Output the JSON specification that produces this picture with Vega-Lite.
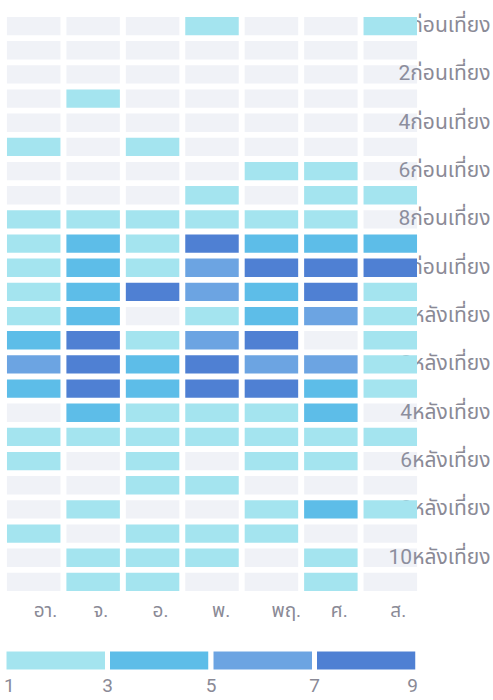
{
  "$schema": "https://vega.github.io/schema/vega-lite/v6.json",
  "width": 416,
  "height": 580,
  "padding": {"left": 4, "top": 14, "right": 3, "bottom": 0},
  "background": "white",
  "config": {"view": {"stroke": null}, "font": "Roboto, Noto Sans Thai, sans-serif"},
  "data": {"values": [
    {"hour":0,"day":"อา.","count":0},{"hour":0,"day":"จ.","count":0},{"hour":0,"day":"อ.","count":0},{"hour":0,"day":"พ.","count":1},{"hour":0,"day":"พฤ.","count":0},{"hour":0,"day":"ศ.","count":0},{"hour":0,"day":"ส.","count":1},
    {"hour":1,"day":"อา.","count":0},{"hour":1,"day":"จ.","count":0},{"hour":1,"day":"อ.","count":0},{"hour":1,"day":"พ.","count":0},{"hour":1,"day":"พฤ.","count":0},{"hour":1,"day":"ศ.","count":0},{"hour":1,"day":"ส.","count":0},
    {"hour":2,"day":"อา.","count":0},{"hour":2,"day":"จ.","count":0},{"hour":2,"day":"อ.","count":0},{"hour":2,"day":"พ.","count":0},{"hour":2,"day":"พฤ.","count":0},{"hour":2,"day":"ศ.","count":0},{"hour":2,"day":"ส.","count":0},
    {"hour":3,"day":"อา.","count":0},{"hour":3,"day":"จ.","count":1},{"hour":3,"day":"อ.","count":0},{"hour":3,"day":"พ.","count":0},{"hour":3,"day":"พฤ.","count":0},{"hour":3,"day":"ศ.","count":0},{"hour":3,"day":"ส.","count":0},
    {"hour":4,"day":"อา.","count":0},{"hour":4,"day":"จ.","count":0},{"hour":4,"day":"อ.","count":0},{"hour":4,"day":"พ.","count":0},{"hour":4,"day":"พฤ.","count":0},{"hour":4,"day":"ศ.","count":0},{"hour":4,"day":"ส.","count":0},
    {"hour":5,"day":"อา.","count":1},{"hour":5,"day":"จ.","count":0},{"hour":5,"day":"อ.","count":1},{"hour":5,"day":"พ.","count":0},{"hour":5,"day":"พฤ.","count":0},{"hour":5,"day":"ศ.","count":0},{"hour":5,"day":"ส.","count":0},
    {"hour":6,"day":"อา.","count":0},{"hour":6,"day":"จ.","count":0},{"hour":6,"day":"อ.","count":0},{"hour":6,"day":"พ.","count":0},{"hour":6,"day":"พฤ.","count":1},{"hour":6,"day":"ศ.","count":1},{"hour":6,"day":"ส.","count":0},
    {"hour":7,"day":"อา.","count":0},{"hour":7,"day":"จ.","count":0},{"hour":7,"day":"อ.","count":0},{"hour":7,"day":"พ.","count":1},{"hour":7,"day":"พฤ.","count":0},{"hour":7,"day":"ศ.","count":1},{"hour":7,"day":"ส.","count":1},
    {"hour":8,"day":"อา.","count":2},{"hour":8,"day":"จ.","count":2},{"hour":8,"day":"อ.","count":2},{"hour":8,"day":"พ.","count":1},{"hour":8,"day":"พฤ.","count":2},{"hour":8,"day":"ศ.","count":1},{"hour":8,"day":"ส.","count":0},
    {"hour":9,"day":"อา.","count":2},{"hour":9,"day":"จ.","count":4},{"hour":9,"day":"อ.","count":2},{"hour":9,"day":"พ.","count":8},{"hour":9,"day":"พฤ.","count":4},{"hour":9,"day":"ศ.","count":4},{"hour":9,"day":"ส.","count":4},
    {"hour":10,"day":"อา.","count":2},{"hour":10,"day":"จ.","count":4},{"hour":10,"day":"อ.","count":2},{"hour":10,"day":"พ.","count":6},{"hour":10,"day":"พฤ.","count":8},{"hour":10,"day":"ศ.","count":8},{"hour":10,"day":"ส.","count":7},
    {"hour":11,"day":"อา.","count":2},{"hour":11,"day":"จ.","count":4},{"hour":11,"day":"อ.","count":7},{"hour":11,"day":"พ.","count":6},{"hour":11,"day":"พฤ.","count":4},{"hour":11,"day":"ศ.","count":8},{"hour":11,"day":"ส.","count":2},
    {"hour":12,"day":"อา.","count":2},{"hour":12,"day":"จ.","count":4},{"hour":12,"day":"อ.","count":0},{"hour":12,"day":"พ.","count":2},{"hour":12,"day":"พฤ.","count":4},{"hour":12,"day":"ศ.","count":6},{"hour":12,"day":"ส.","count":2},
    {"hour":13,"day":"อา.","count":4},{"hour":13,"day":"จ.","count":8},{"hour":13,"day":"อ.","count":2},{"hour":13,"day":"พ.","count":5},{"hour":13,"day":"พฤ.","count":8},{"hour":13,"day":"ศ.","count":0},{"hour":13,"day":"ส.","count":2},
    {"hour":14,"day":"อา.","count":6},{"hour":14,"day":"จ.","count":8},{"hour":14,"day":"อ.","count":4},{"hour":14,"day":"พ.","count":8},{"hour":14,"day":"พฤ.","count":6},{"hour":14,"day":"ศ.","count":6},{"hour":14,"day":"ส.","count":1},
    {"hour":15,"day":"อา.","count":4},{"hour":15,"day":"จ.","count":9},{"hour":15,"day":"อ.","count":4},{"hour":15,"day":"พ.","count":8},{"hour":15,"day":"พฤ.","count":8},{"hour":15,"day":"ศ.","count":4},{"hour":15,"day":"ส.","count":2},
    {"hour":16,"day":"อา.","count":0},{"hour":16,"day":"จ.","count":4},{"hour":16,"day":"อ.","count":2},{"hour":16,"day":"พ.","count":2},{"hour":16,"day":"พฤ.","count":2},{"hour":16,"day":"ศ.","count":4},{"hour":16,"day":"ส.","count":0},
    {"hour":17,"day":"อา.","count":2},{"hour":17,"day":"จ.","count":2},{"hour":17,"day":"อ.","count":2},{"hour":17,"day":"พ.","count":2},{"hour":17,"day":"พฤ.","count":2},{"hour":17,"day":"ศ.","count":2},{"hour":17,"day":"ส.","count":1},
    {"hour":18,"day":"อา.","count":2},{"hour":18,"day":"จ.","count":0},{"hour":18,"day":"อ.","count":2},{"hour":18,"day":"พ.","count":0},{"hour":18,"day":"พฤ.","count":2},{"hour":18,"day":"ศ.","count":1},{"hour":18,"day":"ส.","count":0},
    {"hour":19,"day":"อา.","count":0},{"hour":19,"day":"จ.","count":0},{"hour":19,"day":"อ.","count":2},{"hour":19,"day":"พ.","count":2},{"hour":19,"day":"พฤ.","count":0},{"hour":19,"day":"ศ.","count":0},{"hour":19,"day":"ส.","count":0},
    {"hour":20,"day":"อา.","count":0},{"hour":20,"day":"จ.","count":2},{"hour":20,"day":"อ.","count":0},{"hour":20,"day":"พ.","count":0},{"hour":20,"day":"พฤ.","count":2},{"hour":20,"day":"ศ.","count":4},{"hour":20,"day":"ส.","count":2},
    {"hour":21,"day":"อา.","count":2},{"hour":21,"day":"จ.","count":0},{"hour":21,"day":"อ.","count":2},{"hour":21,"day":"พ.","count":2},{"hour":21,"day":"พฤ.","count":2},{"hour":21,"day":"ศ.","count":0},{"hour":21,"day":"ส.","count":0},
    {"hour":22,"day":"อา.","count":0},{"hour":22,"day":"จ.","count":1},{"hour":22,"day":"อ.","count":2},{"hour":22,"day":"พ.","count":1},{"hour":22,"day":"พฤ.","count":0},{"hour":22,"day":"ศ.","count":2},{"hour":22,"day":"ส.","count":0},
    {"hour":23,"day":"อา.","count":0},{"hour":23,"day":"จ.","count":2},{"hour":23,"day":"อ.","count":1},{"hour":23,"day":"พ.","count":0},{"hour":23,"day":"พฤ.","count":0},{"hour":23,"day":"ศ.","count":2},{"hour":23,"day":"ส.","count":0}
  ]},
  "mark": {"type": "rect"},
  "encoding": {
    "x": {
      "field": "day", "type": "nominal",
      "sort": ["อา.","จ.","อ.","พ.","พฤ.","ศ.","ส."],
      "scale": {"paddingInner": 0.1, "paddingOuter": 0.05},
      "axis": {"title": null, "orient": "bottom", "bandPosition": 0, "labelAlign": "left", "labelAngle": 0,
               "domain": false, "ticks": false, "tickSize": 0, "grid": false, "labelPadding": 7, "zindex": 0,
               "labelFontSize": 19, "labelColor": "#8a8a96", "labelFont": "Roboto, Noto Sans Thai, sans-serif"}
    },
    "y": {
      "field": "hour", "type": "ordinal",
      "scale": {"paddingInner": 0.24, "paddingOuter": 0.12},
      "axis": {"title": null, "orient": "right", "values": [0,2,4,6,8,10,12,14,16,18,20,22],
               "labelExpr": "(datum.value % 12 == 0 ? 12 : datum.value % 12) + (datum.value < 12 ? 'ก่อนเที่ยง' : 'หลังเที่ยง')",
               "labelAlign": "right", "labelBaseline": "middle", "labelPadding": 70, "zindex": 0,
               "domain": false, "ticks": false, "tickSize": 0, "grid": false,
               "labelFontSize": 21, "labelColor": "#8a8a96", "labelFont": "Roboto, Noto Sans Thai, sans-serif"}
    },
    "color": {
      "condition": {"test": "datum.count == 0", "value": "#9aa6c8"},
      "field": "count", "type": "quantitative",
      "scale": {"type": "quantize", "domain": [1, 9], "range": ["#a4e4ef", "#5dbde8", "#6ca4e2", "#4f80d3"]},
      "legend": {
        "type": "gradient", "title": null, "orient": "bottom", "direction": "horizontal",
        "gradientLength": 414, "gradientThickness": 23, "offset": 29,
        "gradientStrokeColor": "white", "gradientStrokeWidth": 5,
        "values": [0.9999, 1, 3, 5, 7, 9], "format": "d", "labelOverlap": false,
        "labelFontSize": 19, "labelColor": "#8a8a96", "labelOffset": 5,
        "labelFont": "Roboto, Noto Sans Thai, sans-serif",
        "encode": {"gradient": {"stroke": {"value": "white"}, "strokeWidth": {"value": 5}}}
      }
    },
    "opacity": {"condition": {"test": "datum.count == 0", "value": 0.15}, "value": 1}
  }
}
